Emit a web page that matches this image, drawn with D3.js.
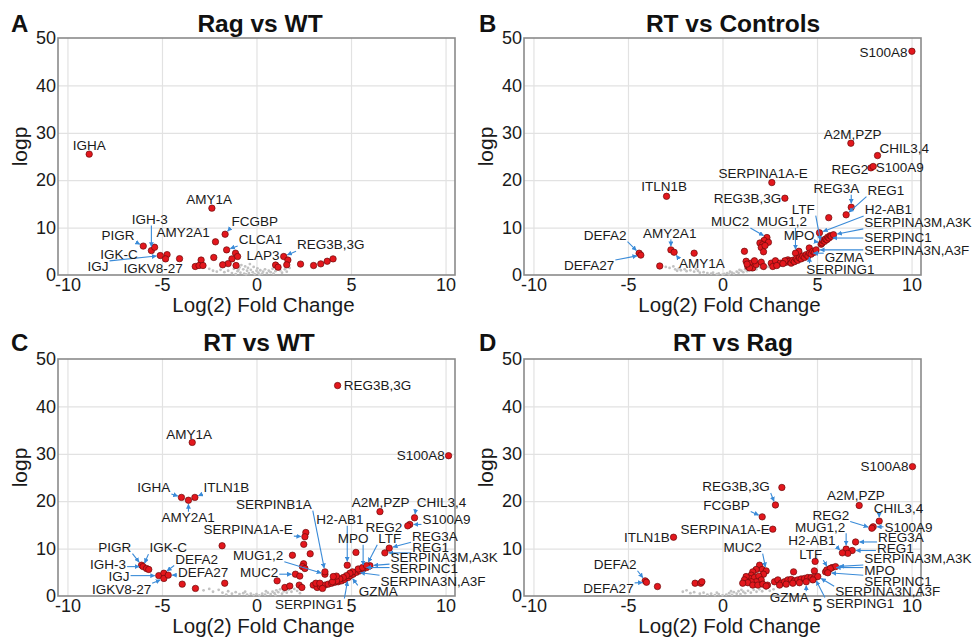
<!DOCTYPE html>
<html><head><meta charset="utf-8">
<script src="https://cdn.jsdelivr.net/npm/d3@7"></script>
<style>body{margin:0;background:#fff}svg{display:block}</style>
</head><body>
<svg id="chart" width="972" height="637"></svg>
<script>
// ---------------- data ----------------
const xTicks = [-10, -5, 0, 5, 10];
const yTicks = [0, 10, 20, 30, 40, 50];
const xDomain = [-10.5, 10.5];
const yDomain = [0, 50];
const panelLetters = ["A", "B", "C", "D"];
const panelTitles = ["Rag vs WT", "RT vs Controls", "RT vs WT", "RT vs Rag"];
const xTitle = "Log(2) Fold Change";
const yTitle = "logp";

// Panel A: Rag vs WT
const ragWtSig = [[-8.85,25.5],[-2.36,14.1],[-1.66,8.6],[-2.17,7.0],[-1.58,5.3],[-1.11,4.6],[-1.0,3.9],[-1.3,3.4],[-1.5,2.4],[-1.79,2.15],[-1.08,2.0],[-2.26,3.7],[-5.99,6.1],[-5.56,5.15],[-5.39,5.85],[-5.09,4.1],[-4.73,4.3],[-4.81,3.4],[-4.07,3.45],[-2.93,3.15],[-3.24,1.8],[-3.04,2.0],[-2.83,2.0],[1.01,2.1],[1.14,1.65],[1.44,3.9],[1.66,3.15],[1.6,2.15],[2.33,2.3],[3.02,2.0],[3.4,2.35],[3.74,2.9],[4.05,3.4]];
const ragWtNs = [[-2.3,0.9],[-2.1,0.7],[-1.9,1.1],[-1.7,0.6],[-1.5,0.9],[-1.3,0.4],[-1.2,1.3],[-1.0,0.8],[-0.9,1.6],[-0.85,0.5],[-0.8,2.1],[-0.7,1.2],[-0.65,0.3],[-0.6,1.8],[-0.5,0.9],[-0.45,1.5],[-0.4,0.4],[-0.35,2.3],[-0.3,1.1],[-0.2,0.6],[-0.15,1.7],[-0.1,0.2],[0.0,0.9],[0.05,1.4],[0.1,0.5],[0.2,1.0],[0.3,0.3],[0.35,0.7],[0.45,1.2],[0.55,0.4],[0.65,0.9],[0.75,0.6],[0.85,1.3],[0.9,0.3],[1.0,0.8],[1.25,1.0],[1.35,0.5],[1.5,1.2],[1.6,0.7],[1.75,1.5],[-1.1,0.2],[-0.55,0.15],[0.15,0.1],[-2.5,1.3],[-0.95,1.1]];
// [text, labelX, labelY, anchor, targetX, targetY]
const ragWtLabels = [
  ["IGHA",-8.85,27.3,"middle"],
  ["AMY1A",-2.5,16.0,"middle"],
  ["IGH-3",-5.64,11.8,"middle",-5.56,5.15],
  ["PIGR",-7.32,8.3,"middle",-5.99,6.1],
  ["AMY2A1",-3.88,9.1,"middle",-2.17,7.0],
  ["FCGBP",-0.09,11.3,"middle",-1.66,8.6],
  ["CLCA1",0.21,7.5,"middle",-1.58,5.3],
  ["IGK-C",-7.27,4.4,"middle",-5.99,6.1],
  ["IGJ",-8.38,1.8,"middle",-5.09,4.1],
  ["IGKV8-27",-5.47,1.4,"middle",-4.81,3.4],
  ["LAP3",0.35,4.1,"middle",1.01,2.1],
  ["REG3B,3G",3.93,6.4,"middle",1.44,3.9]
];

// Panel B: RT vs Controls
const rtCtrlSig = [[10.02,47.2],[6.79,27.8],[8.2,25.2],[7.85,22.6],[7.97,22.9],[2.61,19.5],[-2.96,16.6],[3.3,16.2],[6.81,14.3],[6.54,12.7],[5.62,12.1],[5.13,8.9],
 [5.22,6.5],[5.27,6.75],[5.31,7.3],[5.4,7.1],[5.45,7.6],[5.52,7.45],[5.57,8.0],[5.63,7.8],[5.7,8.3],[5.75,8.15],[5.87,8.5],
 [4.59,5.7],[4.04,5.0],[3.86,4.6],
 [2.35,7.9],[2.2,7.3],[1.98,6.75],[2.12,6.4],[2.43,6.9],[2.05,5.8],[2.17,4.9],[2.25,6.2],
 [1.16,5.0],
 [1.25,2.9],[1.52,2.5],[1.34,1.8],[1.6,1.5],[1.78,2.2],[2.05,2.7],[2.17,1.8],[1.69,3.0],[1.43,1.5],[1.3,2.3],
 [2.58,2.5],[2.8,3.0],[3.05,2.5],[2.66,1.8],[2.87,2.0],
 [3.37,2.7],[3.46,3.2],[3.54,2.9],[3.63,2.5],[3.72,3.1],[3.8,2.8],[3.9,3.4],[3.98,3.1],[4.07,3.6],[4.16,3.4],[4.25,4.0],[4.34,3.7],[4.43,4.3],[4.52,4.0],[4.6,4.6],[4.69,4.4],[4.78,5.0],[4.87,4.8],[4.95,5.3],[3.3,3.0],[3.2,2.4],
 [-4.41,4.6],[-4.32,4.2],[-2.73,5.3],[-2.56,4.8],[-1.5,4.6],[-3.32,1.9]];
const rtCtrlNs = [[-3.0,1.7],[-2.8,1.5],[-2.6,1.8],[-2.5,1.2],[-2.3,1.4],[-2.2,1.0],[-2.0,1.2],[-1.9,0.8],[-1.7,1.0],[-1.5,0.7],[-1.3,0.9],[-1.2,0.5],[-1.0,0.6],[-0.8,0.4],[-0.6,0.3],[-0.5,0.5],[-0.3,0.2],[-0.2,0.35],[0.0,0.1],[0.1,0.25],[0.25,0.4],[0.35,0.15],[0.5,0.5],[0.6,0.3],[0.75,0.7],[0.85,0.45],[1.0,0.9],[1.1,0.6],[1.2,1.2],[1.3,0.8],[1.45,1.4],[1.55,1.0],[1.7,1.5],[1.8,1.2],[2.0,1.6],[2.2,1.3],[2.4,1.7],[2.6,1.5],[-1.4,1.3],[-2.4,0.9],[0.4,0.7],[0.9,1.1]];
const rtCtrlLabels = [
  ["S100A8",9.79,47.0,"end"],
  ["A2M,PZP",6.88,29.6,"middle"],
  ["CHIL3,4",9.61,26.7,"middle"],
  ["REG2",6.74,22.4,"middle"],
  ["S100A9",9.38,22.7,"middle"],
  ["SERPINA1A-E",2.15,21.5,"middle"],
  ["ITLN1B",-3.09,18.7,"middle"],
  ["REG3B,3G",1.32,16.1,"middle"],
  ["REG3A",6.03,18.3,"middle",6.81,14.3],
  ["REG1",8.64,17.9,"middle",6.54,12.7],
  ["H2-AB1",8.77,13.8,"middle",5.13,8.9],
  ["LTF",4.27,13.9,"middle",5.22,6.5],
  ["MUC2",0.41,11.3,"middle",2.35,7.9],
  ["MUG1,2",3.14,11.3,"middle",3.86,4.6],
  ["MPO",4.06,8.4,"middle",5.27,6.75],
  ["SERPINA3M,A3K",7.5,11.1,"start",5.87,8.5],
  ["SERPINC1",7.5,8.0,"start",5.63,7.8],
  ["SERPINA3N,A3F",7.5,5.3,"start",4.95,5.3],
  ["GZMA",6.44,3.7,"middle",4.6,4.6],
  ["SERPING1",6.23,1.3,"middle",4.6,4.6],
  ["DEFA2",-6.21,8.4,"middle",-4.41,4.6],
  ["DEFA27",-7.05,2.0,"middle",-4.32,4.2],
  ["AMY2A1",-2.79,8.9,"middle",-2.73,5.3],
  ["AMY1A",-1.09,2.5,"middle",-2.56,4.8]
];

// Panel C: RT vs WT
const rtWtSig = [[4.29,44.4],[-3.4,32.4],[10.16,29.6],[-3.97,20.8],[-3.6,20.2],[-3.26,20.8],[6.53,17.8],[8.36,16.5],[8.11,15.1],[8.0,14.8],[2.61,13.4],[2.56,12.5],[2.5,10.9],[-1.82,10.6],[7.02,10.1],[6.79,9.1],[5.26,9.2],[1.9,8.6],[2.84,8.9],[2.49,6.8],[2.43,6.2],[2.56,5.8],[2.06,4.6],[2.29,4.2],[1.09,3.2],[1.5,1.8],[1.76,2.1],[2.26,2.3],[2.4,1.8],[-1.68,2.7],[-3.93,2.5],[-3.23,1.6],[-6.08,6.5],[-6.0,6.2],[-5.82,5.8],[-5.7,5.6],[-5.17,4.3],[-4.9,4.8],[-4.9,3.7],[-4.67,4.4],
 [3.0,2.3],[3.21,1.8],[3.39,2.0],[3.14,2.7],[3.62,2.3],[3.79,2.5],[3.97,2.7],[4.14,2.9],[4.32,3.0],[4.5,3.2],[4.67,3.5],[4.85,3.9],[4.97,4.3],[5.11,4.6],[5.29,5.0],[5.47,5.3],[5.64,5.7],[5.82,6.0],[6.0,6.4],[5.08,5.1],[5.38,5.7],[5.61,6.0],[5.82,6.4],[4.94,4.8],[4.76,4.3],[4.59,3.9],[4.41,3.6],[4.23,3.2],[4.02,3.0],[3.35,2.7],[3.49,1.6],[4.23,4.2],[4.06,4.1],[3.62,4.6],[3.62,5.1],[4.8,6.5]];
const rtWtNs = [[-2.8,1.2],[-2.5,1.5],[-2.3,0.9],[-2.0,1.3],[-1.8,0.7],[-1.5,1.0],[-1.3,0.5],[-1.1,0.8],[-0.9,0.4],[-0.7,0.6],[-0.5,0.3],[-0.3,0.5],[-0.15,0.2],[0.0,0.4],[0.15,0.15],[0.3,0.5],[0.45,0.3],[0.6,0.7],[0.75,0.4],[0.85,0.9],[0.95,0.6],[1.05,1.2],[1.15,0.8],[1.25,1.4],[1.35,0.5],[1.45,1.0],[1.6,0.7],[1.7,1.3],[1.85,0.9],[2.0,1.5],[2.15,1.1],[2.3,0.6],[-0.6,0.9],[0.5,1.0],[1.0,0.2],[-1.6,0.3]];
const rtWtLabels = [
  ["REG3B,3G",4.62,44.4,"start"],
  ["AMY1A",-3.56,34.2,"middle"],
  ["S100A8",9.96,29.6,"end"],
  ["IGHA",-5.43,22.9,"middle",-3.97,20.8],
  ["ITLN1B",-1.59,22.9,"middle",-3.26,20.8],
  ["AMY2A1",-3.62,16.6,"middle",-3.6,20.2],
  ["SERPINB1A",0.92,19.4,"middle",3.62,5.1],
  ["A2M,PZP",6.56,19.7,"middle"],
  ["CHIL3,4",9.79,19.7,"middle",8.36,16.5],
  ["S100A9",10.05,16.2,"middle",8.11,15.1],
  ["REG2",6.74,14.6,"middle",8.0,14.8],
  ["H2-AB1",4.41,16.2,"middle",4.8,6.5],
  ["SERPINA1A-E",-0.44,14.0,"middle",2.56,12.5],
  ["MPO",5.11,12.2,"middle",5.64,5.7],
  ["LTF",7.05,12.2,"middle",5.82,6.4],
  ["REG3A",9.44,12.7,"middle",7.02,10.1],
  ["REG1",9.21,10.3,"middle",6.79,9.1],
  ["SERPINA3M,A3K",7.09,8.1,"start",6.0,6.4],
  ["SERPINC1",7.09,5.8,"start",5.61,6.0],
  ["SERPINA3N,A3F",6.56,3.2,"start",5.29,5.0],
  ["GZMA",6.44,1.05,"middle",4.97,4.3],
  ["SERPING1",2.79,-1.7,"middle",4.85,3.9],
  ["MUG1,2",0.09,8.6,"middle",3.62,4.6],
  ["MUC2",0.14,5.0,"middle",2.06,4.6],
  ["PIGR",-7.5,10.3,"middle",-6.08,6.5],
  ["IGK-C",-4.67,10.2,"middle",-6.0,6.2],
  ["IGH-3",-7.85,6.7,"middle",-6.0,6.2],
  ["IGJ",-7.27,4.2,"middle",-5.17,4.3],
  ["DEFA2",-3.17,7.8,"middle",-4.9,4.8],
  ["DEFA27",-2.82,5.0,"middle",-4.67,4.4],
  ["IGKV8-27",-7.14,1.5,"middle",-4.9,3.7]
];

// Panel D: RT vs Rag
const rtRagSig = [[10.05,27.3],[3.14,22.9],[2.8,19.2],[7.23,19.1],[2.1,16.7],[8.29,15.8],[7.97,14.6],[7.9,14.3],[2.66,14.1],[-2.59,12.4],[7.04,11.4],[6.54,9.9],[6.86,9.6],[6.63,9.0],[6.34,9.1],[4.9,7.3],[4.86,5.3],
 [5.45,5.1],[5.63,5.6],[5.8,6.0],[5.98,6.2],[5.52,5.5],[5.7,5.8],[5.57,4.9],
 [2.75,3.0],[2.93,3.4],[3.1,2.7],[3.28,3.0],[3.46,3.4],[3.63,3.5],[3.81,3.2],[3.98,3.4],[4.16,3.6],[4.34,3.7],[4.51,3.9],[4.69,3.9],[4.87,3.9],[5.04,4.1],[3.02,2.3],[3.37,2.5],[3.72,2.7],[4.07,2.8],[4.43,3.0],[4.78,3.4],[3.76,5.1],[2.38,2.3],
 [1.96,6.5],[2.1,5.6],[2.31,5.3],[2.17,4.6],[1.78,5.6],[1.6,5.1],[1.52,4.4],[1.43,3.7],[1.69,3.9],[1.92,4.2],[2.05,3.4],[1.78,3.0],[1.52,3.0],[1.25,4.1],[1.16,3.4],[1.34,2.8],[1.6,2.3],[1.87,2.3],[2.13,2.5],[2.31,2.1],[1.07,2.7],
 [-4.09,3.2],[-4.02,2.9],[-3.44,2.0],[-1.45,2.7],[-1.15,2.7],[-1.09,3.0]];
const rtRagNs = [[-2.1,0.9],[-1.9,1.2],[-1.7,0.6],[-1.5,0.8],[-1.2,0.5],[-1.0,0.7],[-0.8,0.3],[-0.6,0.5],[-0.4,0.2],[-0.2,0.4],[0.0,0.15],[0.2,0.3],[0.35,0.6],[0.5,0.25],[0.6,0.8],[0.75,0.5],[0.85,1.0],[0.95,0.4],[1.1,0.9],[1.2,0.6],[1.35,1.1],[1.5,0.7],[1.65,1.3],[1.8,0.9],[1.95,1.4],[2.1,1.0],[2.3,1.5],[2.5,1.1],[2.7,1.4],[0.45,1.0],[-0.3,0.7],[1.0,1.3]];
const rtRagLabels = [
  ["S100A8",9.84,27.3,"end"],
  ["REG3B,3G",0.71,23.1,"middle",2.8,19.2],
  ["A2M,PZP",7.05,21.3,"middle"],
  ["FCGBP",0.21,19.2,"middle",2.1,16.7],
  ["CHIL3,4",9.31,18.5,"middle",8.29,15.8],
  ["REG2",5.73,17.1,"middle",7.9,14.3],
  ["S100A9",9.84,14.6,"middle",7.97,14.6],
  ["SERPINA1A-E",0.14,14.1,"middle"],
  ["ITLN1B",-4.0,12.4,"middle"],
  ["MUG1,2",5.17,14.6,"middle",6.54,9.9],
  ["H2-AB1",4.73,11.8,"middle",6.34,9.1],
  ["REG3A",9.44,12.4,"middle",7.04,11.4],
  ["REG1",9.14,10.1,"middle",6.86,9.6],
  ["LTF",4.67,8.9,"middle",5.63,5.6],
  ["SERPINA3M,A3K",7.5,7.9,"start",5.98,6.2],
  ["MPO",7.5,5.5,"start",5.8,6.0],
  ["SERPINC1",7.5,3.2,"start",5.57,4.9],
  ["SERPINA3N,A3F",5.96,0.9,"start",5.04,4.1],
  ["SERPING1",5.47,-1.5,"start",4.87,3.9],
  ["GZMA",3.53,-0.2,"middle",4.43,3.0],
  ["MUC2",1.06,10.3,"middle",2.31,5.3],
  ["DEFA2",-5.68,6.7,"middle",-4.09,3.2],
  ["DEFA27",-6.03,1.6,"middle",-4.02,2.9]
];

const panelSig = [ragWtSig, rtCtrlSig, rtWtSig, rtRagSig];
const panelNs = [ragWtNs, rtCtrlNs, rtWtNs, rtRagNs];
const panelLabels = [ragWtLabels, rtCtrlLabels, rtWtLabels, rtRagLabels];

// ---------------- layout ----------------
const layout = [
  {left:58, right:455, top:38, bottom:275, titleX:260, letterX:11, base:32},
  {left:524, right:921, top:38, bottom:275, titleX:733, letterX:479, base:32},
  {left:58, right:455, top:359, bottom:596, titleX:259, letterX:11, base:351},
  {left:524, right:921, top:359, bottom:596, titleX:733, letterX:479, base:351}
];
const FONT = "'Liberation Sans', Arial, Helvetica, sans-serif";
const BLUE = "#3a8bd8";

const svg = d3.select("#chart");
svg.append("rect").attr("width",972).attr("height",637).attr("fill","#fff");
const defs = svg.append("defs");
defs.append("marker").attr("id","arr").attr("viewBox","0 0 10 10")
  .attr("refX",9).attr("refY",5).attr("markerWidth",4.5).attr("markerHeight",4.5)
  .attr("orient","auto")
  .append("path").attr("d","M0,0L10,5L0,10z").attr("fill",BLUE);

layout.forEach((L, i) => {
  const x = d3.scaleLinear().domain(xDomain).range([L.left, L.right]);
  const y = d3.scaleLinear().domain(yDomain).range([L.bottom, L.top]);
  const g = svg.append("g");
  const W = L.right - L.left, H = L.bottom - L.top;

  // grid
  g.append("g").attr("transform",`translate(0,${L.bottom})`)
    .call(d3.axisBottom(x).tickValues(xTicks).tickSize(-H).tickFormat(""))
    .call(a => a.select(".domain").remove())
    .selectAll("line").attr("stroke","#e2e2e2").attr("stroke-width",1.2);
  g.append("g").attr("transform",`translate(${L.left},0)`)
    .call(d3.axisLeft(y).tickValues(yTicks.slice(1,-1)).tickSize(-W).tickFormat(""))
    .call(a => a.select(".domain").remove())
    .selectAll("line").attr("stroke","#e2e2e2").attr("stroke-width",1.2);

  // frame
  g.append("rect").attr("x",L.left).attr("y",L.top).attr("width",W).attr("height",H)
    .attr("fill","none").attr("stroke","#8a8a8a").attr("stroke-width",1.6);

  // tick labels
  const xa = g.append("g").attr("transform",`translate(0,${L.bottom})`)
    .call(d3.axisBottom(x).tickValues(xTicks).tickSize(0).tickPadding(3).tickFormat(d => String(d)));
  xa.select(".domain").remove();
  xa.selectAll("text").attr("font-size",18).attr("font-family",FONT).attr("fill","#1a1a1a");
  const ya = g.append("g").attr("transform",`translate(${L.left},0)`)
    .call(d3.axisLeft(y).tickValues(yTicks).tickSize(0).tickPadding(2).tickFormat(d => String(d)));
  ya.select(".domain").remove();
  ya.selectAll("text").attr("font-size",18).attr("font-family",FONT).attr("fill","#1a1a1a");

  // axis titles
  g.append("text").attr("x",(L.left+L.right)/2+7).attr("y",L.bottom+37)
    .attr("text-anchor","middle").attr("font-family",FONT).attr("font-size",20.5)
    .attr("fill","#1a1a1a").text(xTitle);
  g.append("text").attr("transform",`translate(${L.left-31},${(L.top+L.bottom)/2-10}) rotate(-90)`)
    .attr("text-anchor","middle").attr("font-family",FONT).attr("font-size",21)
    .attr("fill","#1a1a1a").text(yTitle);

  // title & letter
  g.append("text").attr("x",L.titleX).attr("y",L.base).attr("text-anchor","middle")
    .attr("font-family",FONT).attr("font-weight","bold").attr("font-size",24.5)
    .attr("fill","#111").text(panelTitles[i]);
  g.append("text").attr("x",L.letterX).attr("y",L.base)
    .attr("font-family",FONT).attr("font-weight","bold").attr("font-size",24)
    .attr("fill","#111").text(panelLetters[i]);

  // non-significant points
  g.append("g").selectAll("circle").data(panelNs[i]).join("circle")
    .attr("cx",d => x(d[0])).attr("cy",d => y(d[1])).attr("r",1.4)
    .attr("fill","#c2c2c2");
  // significant points
  g.append("g").selectAll("circle").data(panelSig[i]).join("circle")
    .attr("cx",d => x(d[0])).attr("cy",d => y(d[1])).attr("r",3.2)
    .attr("fill","#e3171d").attr("stroke","#6b0c0c").attr("stroke-width",0.7);

  // labels + leaders
  const lg = g.append("g");
  const ll = g.append("g");
  panelLabels[i].forEach(lab => {
    const t = ll.append("text").attr("x",x(lab[1])).attr("y",y(lab[2])).attr("dy","0.35em")
      .attr("text-anchor",lab[3]).attr("font-family",FONT).attr("font-size",13.5)
      .attr("fill","#1a1a1a").text(lab[0]);
    if (lab.length > 4) {
      const bb = t.node().getBBox();
      const tx = x(lab[4]), ty = y(lab[5]);
      const top = bb.y + bb.height*0.18, bot = bb.y + bb.height*0.85;
      const sx = Math.max(bb.x - 1, Math.min(bb.x + bb.width + 1, tx));
      const sy = Math.max(top - 1, Math.min(bot + 1, ty));
      const dx = tx - sx, dy = ty - sy, len = Math.hypot(dx, dy);
      if (len > 6) {
        const k = (len - 4) / len;
        lg.append("line").attr("x1",sx).attr("y1",sy)
          .attr("x2",sx + dx*k).attr("y2",sy + dy*k)
          .attr("stroke",BLUE).attr("stroke-width",1.1)
          .attr("marker-end","url(#arr)");
      }
    }
  });
});
</script>
</body></html>
